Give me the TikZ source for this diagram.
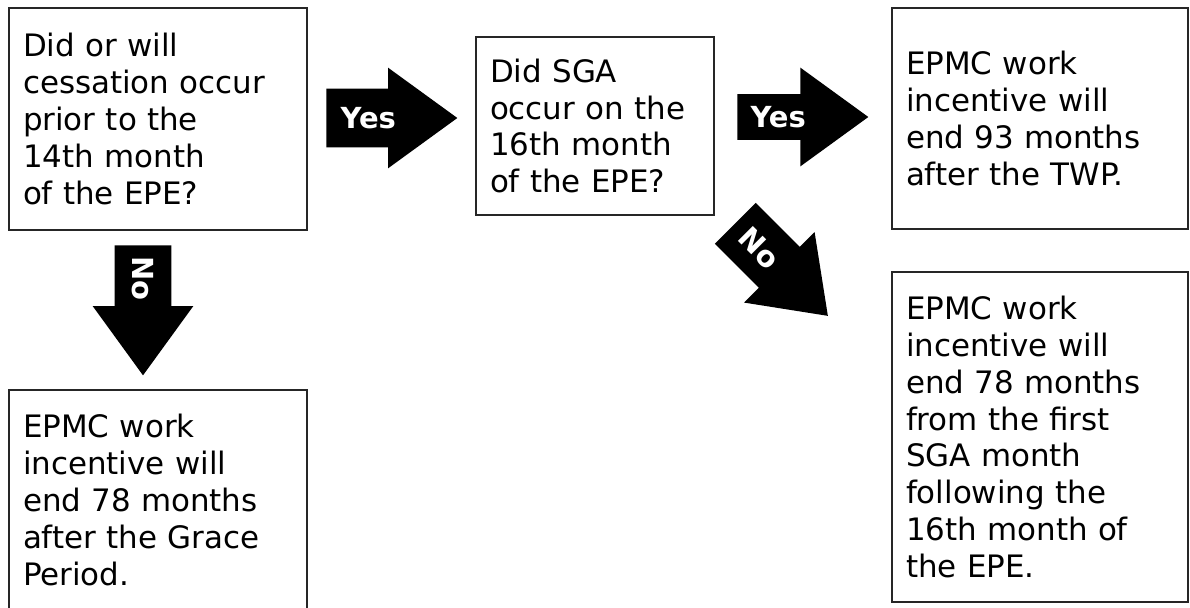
\documentclass[tikz,border=0pt]{standalone}
\usepackage{fontspec}
\setmainfont{DejaVu Sans}
\usetikzlibrary{shapes.arrows}
\tikzset{
	box/.style={
		rectangle,
		draw=black!85,
		line width=1.2pt,
		fill=white,
		inner xsep=0.28cm,
		align=left,
		font=\fontsize{17.6}{21}\selectfont
	},
	fatarrow/.style={
		single arrow,
		fill=black,
		text=white,
		inner xsep=0pt,
		text height=0.44cm,
		text depth=0cm,
		minimum height=2.62cm,
		single arrow tip angle=72,
		font=\fontsize{16.5}{18}\bfseries\selectfont
	},
}

\begin{document}
\begin{tikzpicture}[x=0.02cm,y=-0.02cm]
			\useasboundingbox (0,0) rectangle (1190,608);
			\node[box,text width=5.4cm,minimum height=4.44cm] (q1) at (158,119)
				{Did or will\\cessation occur\\prior to the\\14th month\\of the EPE?};
			\node[box,text width=4.2cm,minimum height=3.56cm] (q2) at (595,126)
				{Did SGA\\occur on the\\16th month\\of the EPE?};
			\node[box,text width=5.36cm,minimum height=4.42cm] (r1) at (1040,118.5)
				{EPMC work\\incentive will\\end 93 months\\after the TWP.};
			\node[box,text width=5.36cm,minimum height=6.6cm] (r2) at (1040,437)
				{EPMC work\\incentive will\\end 78 months\\from the first\\SGA month\\following the\\16th month of\\the EPE.};
			\node[box,text width=5.4cm,minimum height=4.4cm] (r3) at (158,500)
				{EPMC work\\incentive will\\end 78 months\\after the Grace\\Period.};
			% block arrows between the boxes
			\node[fatarrow,anchor=tail,inner ysep=0.36cm,single arrow head extend=0.42cm] (yes1) at (326,118)
				{\makebox[1.24cm][l]{\hspace{0cm}Yes}};
			\node[fatarrow,anchor=tail,inner ysep=0.23cm,single arrow head extend=0.53cm] (yes2) at (737,117)
				{\makebox[1.26cm][l]{\hspace{-0.1cm}Yes}};
			\node[fatarrow,anchor=tail,rotate=-90,minimum height=2.6cm,inner ysep=0.34cm,single arrow head extend=0.44cm] (no1) at (143,245)
				{\makebox[1.22cm][l]{\hspace{-0.08cm}No}};
			\node[fatarrow,anchor=tail,rotate=-45,inner ysep=0.35cm,single arrow head extend=0.42cm] (no2) at (735,223)
				{\makebox[1.24cm][l]{\hspace{-0.04cm}No}};
\end{tikzpicture}
\end{document}
